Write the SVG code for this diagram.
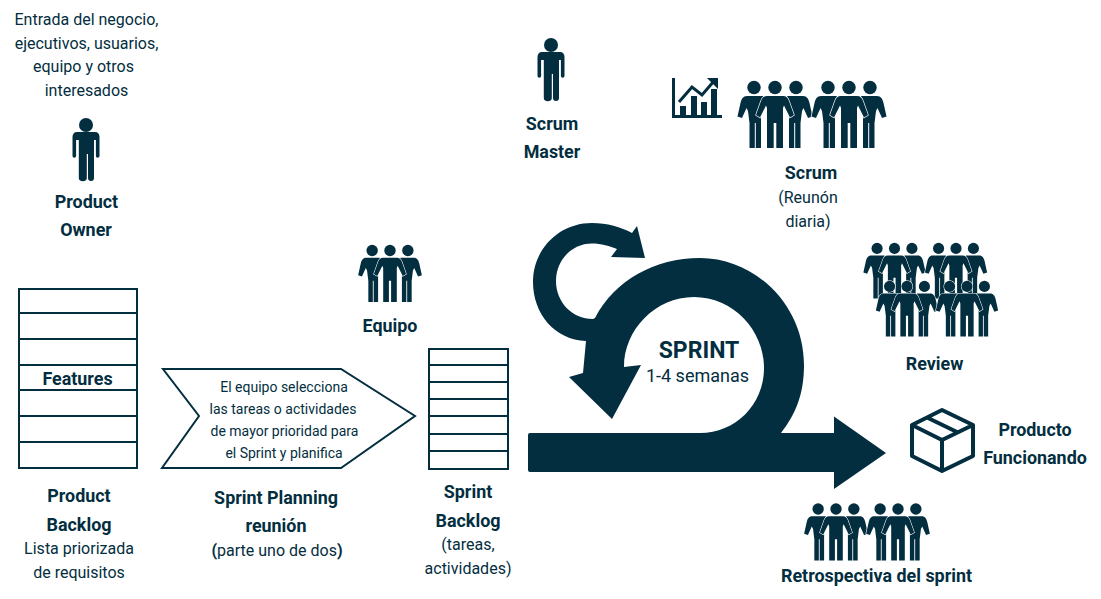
<svg xmlns="http://www.w3.org/2000/svg" xmlns:xlink="http://www.w3.org/1999/xlink" width="1101" height="599" viewBox="0 0 1101 599">
<style>
text{font-family:Roboto,"Liberation Sans",sans-serif;fill:#032e40;text-anchor:middle}
.b{font-weight:700;font-size:17.900px}
.r{font-size:16px}
.s{font-size:14px}
.o{fill:none;stroke:#032e40;stroke-width:2}
.f{fill:#032e40}
.w{fill:#032e40;stroke:#fff;stroke-width:1.300;paint-order:stroke}
</style>
<defs>
<g id="person">
<circle class="f" cx="0" cy="7" r="7"/>
<path class="f" d="M-9,14H9C12,14 13.500,16 13.500,19V38A1.800,1.800 0 0 1 9.900,38V22H8V60A3,3 0 0 1 2,60V36H0.800V60A3.800,3 0 0 1 -7.200,60V22H-9.900V38A1.800,1.800 0 0 1 -13.500,38V19C-13.500,16 -12,14 -9,14Z"/>
</g>
<g id="trio">
<circle class="w" cx="-21" cy="6.500" r="6.700"/>
<path class="w" d="M-28,15H-12L-14,30V67H-19.200V42H-20.200V67H-25.500V42L-27,30L-28.500,27L-33,37L-37.500,35.500L-34.500,22C-33.500,18 -32,15 -28,15Z"/>
<circle class="w" cx="21" cy="6.500" r="6.700"/>
<path class="w" d="M28,15H12L14,30V67H19.200V42H20.200V67H25.500V42L27,30L28.500,27L33,37L37.500,35.500L34.500,22C33.500,18 32,15 28,15Z"/>
<circle class="w" cx="0" cy="6.500" r="6.700"/>
<path class="w" d="M-8,15H8C11.500,15 13,17 14,20L19,34L15,36.500L9,24.500L8,27V67H1.300V42H-1.300V67H-8V27L-9,24.500L-15,36.500L-19,34L-14,20C-13,17 -11.500,15 -8,15Z"/>
</g>
</defs>
<g id="connectors">
<path id="sprint-arrow" class="f" d="M530,433H834V416.500L886,453L834,489V472H530Q528,472 528,470V435Q528,433 530,433Z"/>
<path id="sprint-loop" class="f" d="M700,433C735,433 764,405 764,368C764,330 733,297 694,297C655,297 624,330 624,367L641,365L612,419L569,377L583,373L586,341C555,340 533,314 533,282C533,249 559,223 592,223C607,223 621,227 632,233L637,226L645,258L611,257L617,249C610,246 601,243.500 592,243.500C572,243.500 556,260 556,281C556,302 572,319 593,319L595,318C615,280 655,258 700,258C755,258 804,305 804,365C804,395 795,415 781,433Z"/>
</g>
<g id="stakeholders">
<text class="r" x="86.500" y="25">Entrada del negocio,</text>
<text class="r" x="86.500" y="49">ejecutivos, usuarios,</text>
<text class="r" x="83.500" y="72">equipo y otros</text>
<text class="r" x="86.500" y="95.500">interesados</text>
</g>
<g id="product-owner">
<use xlink:href="#person" href="#person" transform="translate(86,118)"/>
<text class="b" x="86.500" y="208">Product</text>
<text class="b" x="86" y="236">Owner</text>
</g>
<g id="scrum-master">
<use xlink:href="#person" href="#person" transform="translate(551,38)"/>
<text class="b" x="552" y="130">Scrum</text>
<text class="b" x="552" y="158">Master</text>
</g>
<g id="daily-scrum">
<path class="o" style="stroke-width:3" d="M673.500,78V116.500H722"/>
<path class="f" d="M680,106H686V116H680ZM691,96H697V116H691ZM701,102H707V116H701ZM711,89H717V116H711Z"/>
<path class="o" style="stroke-width:3" d="M679,102L692,87L702,95L714,81"/>
<path class="f" d="M707,78H718V89Z"/>
<use xlink:href="#trio" href="#trio" transform="translate(775,81)"/>
<use xlink:href="#trio" href="#trio" transform="translate(849,81)"/>
<text class="b" x="811" y="179">Scrum</text>
<text class="r" x="808" y="203">(Reunón</text>
<text class="r" x="808" y="227">diaria)</text>
</g>
<g id="review">
<use xlink:href="#trio" href="#trio" transform="translate(894.500,243) scale(.83)"/>
<use xlink:href="#trio" href="#trio" transform="translate(956,243) scale(.83)"/>
<use xlink:href="#trio" href="#trio" transform="translate(907,281) scale(.83)"/>
<use xlink:href="#trio" href="#trio" transform="translate(967,281) scale(.83)"/>
<text class="b" x="934.500" y="370">Review</text>
</g>
<g id="equipo">
<use xlink:href="#trio" href="#trio" transform="translate(390,245) scale(.85)"/>
<text class="b" x="390" y="332">Equipo</text>
</g>
<g id="product-backlog">
<rect class="o" x="19" y="289" width="118" height="179"/>
<path class="o" d="M19,313H137M19,339H137M19,365H137M19,390H137M19,416H137M19,442H137"/>
<text class="b" x="77.500" y="385">Features</text>
<text class="b" x="79" y="502">Product</text>
<text class="b" x="79" y="531">Backlog</text>
<text class="r" x="79" y="554">Lista priorizada</text>
<text class="r" x="79" y="578">de requisitos</text>
</g>
<g id="sprint-planning">
<path class="o" d="M163,369H341L415,416L341,468H162L199,416Z"/>
<text class="s" x="284" y="392">El equipo selecciona</text>
<text class="s" x="283" y="414">las tareas o actividades</text>
<text class="s" x="284.500" y="436">de mayor prioridad para</text>
<text class="s" x="284" y="458">el Sprint y planifica</text>
<text class="b" x="276" y="504">Sprint Planning</text>
<text class="b" x="276" y="532">reunión</text>
<text class="r" x="277" y="556"><tspan font-weight="700">(</tspan>parte uno de dos<tspan font-weight="700">)</tspan></text>
</g>
<g id="sprint-backlog">
<rect class="o" x="429" y="349" width="79" height="120"/>
<path class="o" d="M429,365H508M429,382H508M429,399H508M429,416H508M429,434H508M429,451H508"/>
<text class="b" x="468" y="498">Sprint</text>
<text class="b" x="468" y="526.500">Backlog</text>
<text class="r" x="468" y="550">(tareas,</text>
<text class="r" x="468" y="574">actividades)</text>
</g>
<g id="sprint-label">
<text x="699" y="358" font-weight="700" font-size="23">SPRINT</text>
<text x="697.500" y="382" font-size="18">1-4 semanas</text>
</g>
<g id="producto">
<path class="o" style="stroke-width:4;stroke-linejoin:round" d="M942,410L973,425V456L942,471L912,456V425ZM912,425L942,440L973,425M942,440V471M927,417.500L958,432.500"/>
<text class="b" x="1035" y="436">Producto</text>
<text class="b" x="1035" y="464">Funcionando</text>
</g>
<g id="retrospectiva">
<use xlink:href="#trio" href="#trio" transform="translate(836,503.500) scale(.85)"/>
<use xlink:href="#trio" href="#trio" transform="translate(898,503.500) scale(.85)"/>
<text class="b" x="876.500" y="582">Retrospectiva del sprint</text>
</g>
</svg>
